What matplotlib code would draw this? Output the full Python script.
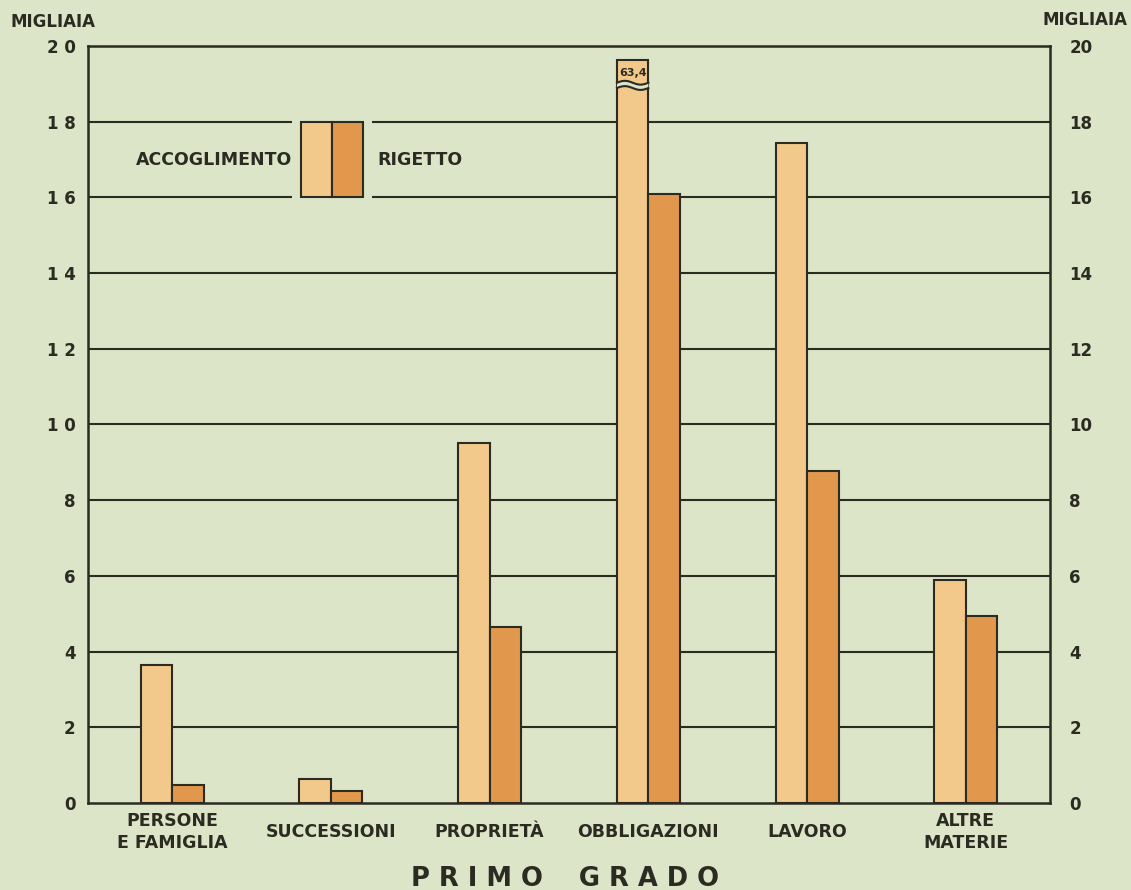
import numpy as np
import matplotlib.pyplot as plt
from matplotlib.patches import Rectangle, Polygon
from matplotlib.transforms import blended_transform_factory

# dati (migliaia)
categorie = ["PERSONE\nE FAMIGLIA", "SUCCESSIONI", "PROPRIETÀ",
             "OBBLIGAZIONI", "LAVORO", "ALTRE\nMATERIE"]
accoglimento = [3.65, 0.63, 9.5, 63.4, 17.44, 5.89]
rigetto = [0.48, 0.32, 4.65, 16.1, 8.77, 4.94]
yticks = [0, 2, 4, 6, 8, 10, 12, 14, 16, 18, 20]
ylab_sx = ["0", "2", "4", "6", "8", "1 0", "1 2", "1 4", "1 6", "1 8", "2 0"]
ylab_dx = ["0", "2", "4", "6", "8", "10", "12", "14", "16", "18", "20"]

sfondo = "#dce5c7"
chiaro = "#f2c98b"
scuro = "#e2984c"
nero = "#2b2b22"

plt.rcParams['font.family'] = ['DejaVu Sans']
fig = plt.figure(figsize=(11.31, 8.90), dpi=100, facecolor=sfondo)
ax = fig.add_axes([0.0778, 0.0978, 0.8506, 0.8505])
ax.set_facecolor(sfondo)

x = np.arange(len(categorie))
w = 0.198
ymax = 20
cima = 19.63  # barra interrotta
acc_plot = np.minimum(accoglimento, cima)

ax.set_xlim(-0.53, 5.53)
ax.set_ylim(0, ymax)

# griglia
for t in yticks[1:]:
    ax.axhline(t, color=nero, lw=1.5, zorder=1)

ax.bar(x - w / 2, acc_plot, w, color=chiaro, edgecolor=nero, lw=1.5, zorder=3)
ax.bar(x + w / 2, rigetto, w, color=scuro, edgecolor=nero, lw=1.5, zorder=3)

# interruzione barra obbligazioni
i = 3
xs = np.linspace(x[i] - w, x[i], 40)
onda = 18.96 + 0.05 * np.sin((xs - xs[0]) / w * 2 * np.pi)
sotto = onda - 0.07
sopra = onda + 0.07
poly = Polygon(np.column_stack([np.r_[xs, xs[::-1]], np.r_[sotto, sopra[::-1]]]),
               closed=True, facecolor=sfondo, edgecolor='none', zorder=4)
ax.add_patch(poly)
ax.plot(xs, sotto, color=nero, lw=1.5, zorder=5)
ax.plot(xs, sopra, color=nero, lw=1.5, zorder=5)
ax.text(x[i] - w / 2, 19.3, "63,4", ha='center', va='center', fontsize=8,
        fontweight='bold', color=nero, zorder=6)

# legenda
ax.add_patch(Rectangle((0.755, 15.85), 0.505, 2.3, facecolor=sfondo,
                       edgecolor='none', zorder=2))
ax.add_patch(Rectangle((0.812, 16), 0.195, 2, facecolor=chiaro,
                       edgecolor=nero, lw=1.5, zorder=3))
ax.add_patch(Rectangle((1.007, 16), 0.195, 2, facecolor=scuro,
                       edgecolor=nero, lw=1.5, zorder=3))
ax.text(0.755, 17.0, "ACCOGLIMENTO", ha='right', va='center', fontsize=12.5,
        fontweight='bold', color=nero)
ax.text(1.29, 17.0, "RIGETTO", ha='left', va='center', fontsize=12.5,
        fontweight='bold', color=nero)

for s in ax.spines.values():
    s.set_color(nero)
    s.set_linewidth(1.8)

ax.set_xticks([])
ax.set_yticks(yticks, labels=ylab_sx)
ax.tick_params(axis='y', length=0, pad=9, labelsize=12, labelcolor=nero)
for lb in ax.get_yticklabels():
    lb.set_fontweight('bold')

ax2 = ax.twinx()
ax2.set_ylim(0, ymax)
ax2.set_yticks(yticks, labels=ylab_dx)
ax2.tick_params(axis='y', length=0, pad=14, labelsize=12, labelcolor=nero)
for lb in ax2.get_yticklabels():
    lb.set_fontweight('bold')
for s in ax2.spines.values():
    s.set_visible(False)

# etichette categorie
tr = blended_transform_factory(ax.transData, fig.transFigure)
for xi, c in zip(x, categorie):
    ax.text(xi, 1 - 832 / 890, c, transform=tr, ha='center', va='center',
            fontsize=12.5, fontweight='bold', color=nero, linespacing=1.3)

fig.text(10 / 1131, 1 - 22 / 890, "MIGLIAIA", ha='left', va='center',
         fontsize=12, fontweight='bold', color=nero)
fig.text(1128 / 1131, 1 - 20 / 890, "MIGLIAIA", ha='right', va='center',
         fontsize=12, fontweight='bold', color=nero)
fig.text(565 / 1131, 1 - 879 / 890, "P R I M O    G R A D O", ha='center',
         va='center', fontsize=18.5, fontweight='bold', color=nero)

fig.savefig("out.png", dpi=100, facecolor=sfondo)
